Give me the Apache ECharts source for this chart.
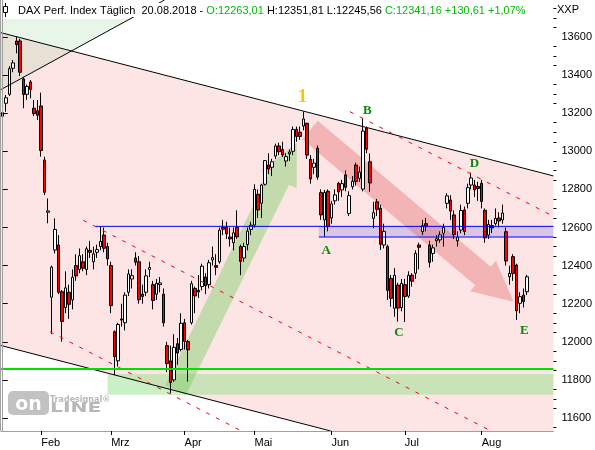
<!DOCTYPE html>
<html><head><meta charset="utf-8">
<script src="https://cdn.jsdelivr.net/npm/echarts@6/dist/echarts.min.js"></script>
<style>html,body{margin:0;padding:0;background:#fff}#c{width:595px;height:450px}</style>
</head><body><div id="c"></div>
<script>
// ---------- DATA ----------
const dates = [
'2018-01-17','2018-01-18','2018-01-19','2018-01-22','2018-01-23','2018-01-24','2018-01-25','2018-01-26','2018-01-29','2018-01-30','2018-01-31',
'2018-02-01','2018-02-02','2018-02-05','2018-02-06','2018-02-07','2018-02-08','2018-02-09','2018-02-12','2018-02-13','2018-02-14','2018-02-15','2018-02-16','2018-02-19','2018-02-20','2018-02-21','2018-02-22','2018-02-23','2018-02-26','2018-02-27','2018-02-28',
'2018-03-01','2018-03-02','2018-03-05','2018-03-06','2018-03-07','2018-03-08','2018-03-09','2018-03-12','2018-03-13','2018-03-14','2018-03-15','2018-03-16','2018-03-19','2018-03-20','2018-03-21','2018-03-22','2018-03-23','2018-03-26','2018-03-27','2018-03-28','2018-03-29',
'2018-04-03','2018-04-04','2018-04-05','2018-04-06','2018-04-09','2018-04-10','2018-04-11','2018-04-12','2018-04-13','2018-04-16','2018-04-17','2018-04-18','2018-04-19','2018-04-20','2018-04-23','2018-04-24','2018-04-25','2018-04-26','2018-04-27','2018-04-30',
'2018-05-02','2018-05-03','2018-05-04','2018-05-07','2018-05-08','2018-05-09','2018-05-10','2018-05-11','2018-05-14','2018-05-15','2018-05-16','2018-05-17','2018-05-18','2018-05-21','2018-05-22','2018-05-23','2018-05-24','2018-05-25','2018-05-28','2018-05-29','2018-05-30','2018-05-31',
'2018-06-01','2018-06-04','2018-06-05','2018-06-06','2018-06-07','2018-06-08','2018-06-11','2018-06-12','2018-06-13','2018-06-14','2018-06-15','2018-06-18','2018-06-19','2018-06-20','2018-06-21','2018-06-22','2018-06-25','2018-06-26','2018-06-27','2018-06-28','2018-06-29',
'2018-07-02','2018-07-03','2018-07-04','2018-07-05','2018-07-06','2018-07-09','2018-07-10','2018-07-11','2018-07-12','2018-07-13','2018-07-16','2018-07-17','2018-07-18','2018-07-19','2018-07-20','2018-07-23','2018-07-24','2018-07-25','2018-07-26','2018-07-27','2018-07-30','2018-07-31',
'2018-08-01','2018-08-02','2018-08-03','2018-08-06','2018-08-07','2018-08-08','2018-08-09','2018-08-10','2018-08-13','2018-08-14','2018-08-15','2018-08-16','2018-08-17','2018-08-20'
];
const opens = [
13203,13252,13299,13436,13579,13579,13380,13299,13364,13226,13213,
13238,12954,12680,12234,12482,12508,12263,12180,12260,12220,12400,12380,12420,12380,12480,12420,12470,12500,12560,12500,
12400,12053,11900,12120,12100,12260,12330,12440,12420,12250,12260,12380,12300,12250,12300,12250,11980,11900,11800,11990,11960,
12100,12001,12100,12280,12270,12290,12340,12300,12430,12400,12420,12600,12600,12550,12520,12600,12500,12440,12510,12590,
12613,12774,12727,12827,12928,12916,12975,13028,13010,12949,12986,13000,13115,13100,13133,13147,12958,12916,13016,12783,12640,12790,
12650,12740,12832,12797,12876,12674,12814,12928,12858,12802,13121,12945,12648,12735,12701,12508,12500,12333,12176,12298,12180,
12300,12240,12350,12360,12508,12578,12620,12508,12464,12530,12535,12570,12727,12744,12666,12530,12587,12692,12727,12823,12823,12815,
12832,12690,12560,12610,12620,12650,12640,12578,12342,12447,12403,12202,12245,12263.01
];
const highs = [
13252,13296,13447,13479,13602,13590,13390,13350,13374,13269,13269,
13308,12972,12753,12400,12648,12560,12272,12370,12300,12380,12460,12490,12460,12500,12530,12500,12510,12606,12600,12520,
12420,12060,12100,12200,12260,12380,12380,12470,12450,12300,12380,12420,12320,12330,12340,12280,12000,11980,12040,12020,12150,
12120,12010,12320,12290,12350,12410,12360,12430,12500,12460,12600,12640,12630,12600,12600,12690,12510,12520,12600,12630,
12827,12800,12830,12954,12990,12960,13040,13045,13050,12990,13010,13130,13130,13130,13208,13150,12980,12960,13030,12800,12797,12800,
12740,12800,12840,12850,12900,12790,12870,12940,12920,13173,13130,12989,12735,12750,12720,12620,12510,12351,12387,12310,12330,
12330,12370,12360,12480,12520,12640,12650,12530,12510,12560,12580,12620,12780,12770,12690,12580,12720,12710,12830,12888,12850,12840,
12850,12700,12640,12640,12700,12680,12720,12600,12400,12460,12410,12260,12280,12351.81
];
const lows = [
13133,13208,13290,13415,13514,13395,13226,13270,13278,13185,13164,
12972,12770,12622,12040,12464,12250,12001,12150,12120,12170,12320,12360,12370,12350,12440,12380,12440,12480,12470,12400,
12150,11826,11870,12080,12060,12240,12280,12400,12200,12200,12240,12340,12170,12220,12260,12080,11840,11730,11790,11880,11950,
11960,11791,12090,12150,12230,12270,12250,12280,12400,12350,12410,12560,12540,12500,12480,12540,12350,12420,12480,12560,
12600,12650,12650,12820,12880,12870,12960,12980,12970,12920,12950,12980,13050,13060,13110,12960,12830,12880,12850,12640,12552,12580,
12620,12720,12740,12760,12790,12660,12800,12820,12840,12790,12990,12788,12596,12660,12482,12490,12220,12184,12132,12106,12160,
12104,12230,12290,12330,12380,12560,12580,12390,12420,12500,12520,12500,12700,12640,12540,12500,12570,12560,12700,12800,12760,12740,
12700,12520,12540,12570,12610,12600,12620,12400,12300,12320,12114,12150,12180,12245.56
];
const closes = [
13184,13281,13434,13464,13560,13415,13298,13340,13325,13198,13189,
13004,12785,12687,12392,12590,12260,12107,12283,12197,12339,12346,12452,12386,12488,12470,12462,12484,12527,12491,12436,
12190,11922,12091,12114,12245,12356,12347,12418,12221,12238,12346,12390,12217,12307,12309,12100,11886,11787,11971,11941,12097,
12002,11958,12305,12241,12262,12397,12294,12415,12442,12391,12586,12591,12567,12540,12572,12551,12422,12500,12581,12612,
12800,12692,12823,12951,12907,12945,13028,12998,12981,12972,12996,13115,13078,13078,13170,12980,12855,12938,12864,12666,12784,12605,
12724,12771,12787,12830,12811,12767,12843,12842,12891,13106,13011,12834,12678,12695,12512,12580,12270,12228,12349,12177,12306,
12238,12349,12318,12464,12496,12610,12609,12417,12493,12541,12561,12600,12766,12686,12562,12549,12689,12579,12809,12860,12798,12805,
12737,12546,12616,12598,12648,12634,12676,12424,12359,12359,12163,12237,12211,12341.16
];
const monthLabels = {'01':'Jan','02':'Feb','03':'Mrz','04':'Apr','05':'Mai','06':'Jun','07':'Jul','08':'Aug'};
const yMajorTicks = [11600,11800,12000,12200,12400,12600,12800,13000,13200,13400,13600];
const yMinorTicks = [11550,11650,11700,11750,11850,11900,11950,12050,12100,12150,12250,12300,12350,12450,12500,12550,12650,12700,12750,12850,12900,12950,13050,13100,13150,13250,13300,13350,13450,13500,13550,13650,13700,13750];
const headerParts = [
  ['DAX Perf. Index Täglich  20.08.2018 - ', 'k'], ['O:12263,01', 'g'], [' H:12351,81 L:12245,56 ', 'k'], ['C:12341,16 +130,61 +1,07%', 'g']
];

// annotations in data coordinates: [slot index, index value]
const upperChannel = [[-5, 13644], [165, 12835]];
const lowerChannel = [[-5, 12002], [165, 11193]];
const risingLine   = [[-5, 13279], [60, 13932]];
const redDashA = [[99.3, 13208], [160, 12635]];
const redDashB = [[23, 12638], [160, 11339]];
const redDashC = [[13.5, 12053], [80, 11421]];
const blueLineTop = [[26.6, 12606], [200, 12606]];
const blueLineBottom = [[90.4, 12550], [200, 12550]];
const greenLine = [[-5, 11857], [200, 11857]];
const supportZone = {from: 30, to: 200, low: 11722, high: 11831};
const resistZone = {from: 90.4, to: 200, low: 12550, high: 12606};
const greenArrow = {tail: [49.4, 11747], tip: [84.1, 13044]};
const redArrow = {tail: [87.9, 13112], tip: [146.1, 12210]};
const letterMarks = [['A', 92.5, 12477], ['B', 104.3, 13213], ['C', 113.3, 12050], ['D', 134.9, 12937], ['E', 149.2, 12058]];
const waveMark = ['1', 85.7, 13287];

// ---------- CHART ----------
const N_SLOTS = 158;
const cats = dates.slice();
while (cats.length < N_SLOTS) cats.push('');
const monthStart = cats.map((d, i) => i > 0 && d && dates[i - 1] && d.slice(5, 7) !== dates[i - 1].slice(5, 7));
const candleData = dates.map((d, i) => [opens[i], closes[i], lows[i], highs[i]]);
const YMIN = 11531.8, YMAX = 13794.2;
const FONT = '"Liberation Sans", Arial, sans-serif';

function rectPoly(cs) { return [[cs.x, cs.y], [cs.x + cs.width, cs.y], [cs.x + cs.width, cs.y + cs.height], [cs.x, cs.y + cs.height]]; }
function clipHalf(poly, p1, p2, keepAbove) {
  const side = p => (p2[0] - p1[0]) * (p[1] - p1[1]) - (p2[1] - p1[1]) * (p[0] - p1[0]);
  const ref = [p1[0], p1[1] - 100000];
  const s0 = side(ref) >= 0 ? 1 : -1;
  const sgn = keepAbove ? s0 : -s0;
  const out = [];
  for (let k = 0; k < poly.length; k++) {
    const a = poly[k], b = poly[(k + 1) % poly.length];
    const sa = side(a) * sgn, sb = side(b) * sgn;
    if (sa >= 0) out.push(a);
    if ((sa >= 0) !== (sb >= 0)) { const t = sa / (sa - sb); out.push([a[0] + t * (b[0] - a[0]), a[1] + t * (b[1] - a[1])]); }
  }
  return out;
}
function clipSeg(p, q, cs) {
  let t0 = 0, t1 = 1; const dx = q[0] - p[0], dy = q[1] - p[1];
  const P = [-dx, dx, -dy, dy], Q = [p[0] - cs.x, cs.x + cs.width - p[0], p[1] - cs.y, cs.y + cs.height - p[1]];
  for (let k = 0; k < 4; k++) {
    if (P[k] === 0) { if (Q[k] < 0) return null; }
    else { const r = Q[k] / P[k]; if (P[k] < 0) { if (r > t1) return null; if (r > t0) t0 = r; } else { if (r < t0) return null; if (r < t1) t1 = r; } }
  }
  return [p[0] + t0 * dx, p[1] + t0 * dy, p[0] + t1 * dx, p[1] + t1 * dy];
}
function poly(points, fill) { return {type: 'polygon', silent: true, shape: {points: points}, style: {fill: fill}}; }
function arrowPoly(T, P, sw, hw, hl) {
  const L = Math.hypot(P[0] - T[0], P[1] - T[1]);
  const u = [(P[0] - T[0]) / L, (P[1] - T[1]) / L], n = [-u[1], u[0]];
  const B = [P[0] - u[0] * hl, P[1] - u[1] * hl];
  const f = (o, s) => [o[0] + n[0] * s, o[1] + n[1] * s];
  return [f(T, sw), f(B, sw), f(B, hw), P, f(B, -hw), f(B, -sw), f(T, -sw)];
}

const chart = echarts.init(document.getElementById('c'), null, {renderer: 'canvas'});
const option = {
  animation: false,
  backgroundColor: '#ffffff',
  grid: {left: 1, right: 40, top: 0, bottom: 19, containLabel: false},
  xAxis: [{
    type: 'category', data: cats, boundaryGap: true, z: 10,
    axisLine: {show: true, lineStyle: {color: '#a0a0a0', width: 1}},
    axisTick: {show: true, alignWithLabel: true, length: 4, interval: (i) => monthStart[i], lineStyle: {color: '#000'}},
    axisLabel: {show: true, interval: (i) => monthStart[i], align: 'left', margin: 6, color: '#000', fontSize: 11, fontFamily: FONT,
      formatter: (v) => monthLabels[v.slice(5, 7)] || ''},
    splitLine: {show: false}
  }, {
    type: 'value', min: -0.5, max: N_SLOTS - 0.5, show: false
  }],
  yAxis: [{
    type: 'value', position: 'right', min: YMIN, max: YMAX, z: 10, scale: true,
    axisLine: {show: true, lineStyle: {color: '#a0a0a0', width: 1}},
    axisTick: {show: true, customValues: yMajorTicks, length: 5, lineStyle: {color: '#000'}},
    axisLabel: {show: true, customValues: yMajorTicks, margin: 8, color: '#000', fontSize: 11, fontFamily: FONT,
      formatter: (v) => String(Math.round(v))},
    splitLine: {show: false}
  }, {
    type: 'value', position: 'right', min: YMIN, max: YMAX, z: 10, scale: true,
    axisLine: {show: false},
    axisTick: {show: true, customValues: yMinorTicks, length: 3, lineStyle: {color: '#000'}},
    axisLabel: {show: false},
    splitLine: {show: false}
  }],
  series: [
    { // background regions
      type: 'custom', xAxisIndex: 1, yAxisIndex: 0, z: 1, silent: true, data: [0],
      renderItem: (params, api) => {
        const cs = params.coordSys; const R = rectPoly(cs); const c = api.coord;
        const u1 = c(upperChannel[0]), u2 = c(upperChannel[1]);
        const l1 = c(lowerChannel[0]), l2 = c(lowerChannel[1]);
        const r1 = c(risingLine[0]), r2 = c(risingLine[1]);
        let channel = clipHalf(clipHalf(R, u1, u2, false), l1, l2, true);
        const pink = clipHalf(channel, r1, r2, false);
        const beige = clipHalf(channel, r1, r2, true);
        const green = clipHalf(clipHalf(R, u1, u2, true), r1, r2, true);
        const zoneRect = (z) => {
          const a = c([z.from, z.high]), b = c([z.to, z.low]);
          const x2 = Math.min(b[0], cs.x + cs.width);
          return [[a[0], a[1]], [x2, a[1]], [x2, b[1]], [a[0], b[1]]];
        };
        return {type: 'group', children: [
          poly(pink, '#fde5e5'), poly(beige, '#e9e0d5'), poly(green, '#e7f6e8'),
          poly(zoneRect(supportZone), 'rgba(140,222,128,0.46)'),
          poly(zoneRect(resistZone), 'rgba(149,140,239,0.36)')
        ]};
      }
    },
    { // arrows
      type: 'custom', xAxisIndex: 1, yAxisIndex: 0, z: 2, silent: true, data: [0],
      renderItem: (params, api) => {
        const c = api.coord;
        const g = arrowPoly(c(greenArrow.tail), c(greenArrow.tip), 11.5, 20, 41);
        const r = arrowPoly(c(redArrow.tail), c(redArrow.tip), 12, 20, 40);
        return {type: 'group', children: [poly(g, 'rgba(125,205,105,0.45)'), poly(r, 'rgba(222,95,95,0.36)')]};
      }
    },
    {
      type: 'candlestick', xAxisIndex: 0, yAxisIndex: 0, z: 3, data: candleData, barWidth: 3,
      itemStyle: {color: '#ffffff', color0: '#ff0000', borderColor: '#000000', borderColor0: '#000000', borderWidth: 1}
    },
    { // lines
      type: 'custom', xAxisIndex: 1, yAxisIndex: 0, z: 4, silent: true, data: [0],
      renderItem: (params, api) => {
        const cs = params.coordSys; const c = api.coord;
        const mk = (seg, stroke, w, dash) => {
          const s = clipSeg(c(seg[0]), c(seg[1]), cs);
          if (!s) return null;
          return {type: 'line', silent: true, shape: {x1: s[0], y1: s[1], x2: s[2], y2: s[3]},
            style: {stroke: stroke, lineWidth: w, lineDash: dash || null}};
        };
        const items = [
          mk(upperChannel, '#000', 1), mk(lowerChannel, '#000', 1), mk(risingLine, '#000', 1),
          mk(redDashA, '#ff0000', 1, [4, 7]), mk(redDashB, '#ff0000', 1, [4, 7]), mk(redDashC, '#ff0000', 1, [4, 7]),
          mk(blueLineTop, '#0000ff', 1), mk(blueLineBottom, '#0000ff', 1), mk(greenLine, '#00e000', 2)
        ].filter(Boolean);
        return {type: 'group', children: items};
      }
    },
    { // labels
      type: 'custom', xAxisIndex: 1, yAxisIndex: 0, z: 5, silent: true, data: [0],
      renderItem: (params, api) => {
        const c = api.coord;
        const kids = letterMarks.map(m => {
          const p = c([m[1], m[2]]);
          return {type: 'text', silent: true, x: p[0], y: p[1], style: {text: m[0], fill: '#0a8a0a', font: 'bold 13px "Liberation Serif", serif',
            align: 'center', verticalAlign: 'middle', textShadowColor: '#e8c400', textShadowOffsetX: 1, textShadowOffsetY: 1, textShadowBlur: 0}};
        });
        const w = c([waveMark[1], waveMark[2]]);
        kids.push({type: 'text', silent: true, x: w[0], y: w[1], style: {text: waveMark[0], fill: '#f5c800', font: 'bold 19px "Liberation Serif", serif', align: 'center', verticalAlign: 'middle'}});
        return {type: 'group', children: kids};
      }
    }
  ],
  graphic: [
    {type: 'rect', z: 2.5, silent: true, shape: {x: 0, y: 0, width: 555, height: 19}, style: {fill: '#ffffff'}},
    {type: 'line', z: 11, silent: true, shape: {x1: 0.5, y1: 0, x2: 0.5, y2: 431}, style: {stroke: '#a0a0a0', lineWidth: 1}},
    // header icon
    {type: 'line', z: 12, silent: true, shape: {x1: 5.5, y1: 3, x2: 5.5, y2: 17}, style: {stroke: '#000', lineWidth: 1}},
    {type: 'rect', z: 12, silent: true, shape: {x: 3.5, y: 6.5, width: 4, height: 6}, style: {fill: '#fff', stroke: '#000', lineWidth: 1}},
    {type: 'text', z: 12, silent: true, x: 17, y: 10, style: {
      text: headerParts.map(p => '{' + p[1] + '|' + p[0] + '}').join(''),
      font: '11px ' + FONT, verticalAlign: 'middle', backgroundColor: '#fff', padding: [2, 1, 1, 1],
      rich: {k: {fill: '#000', font: '11px ' + FONT}, g: {fill: '#00bb00', font: '11px ' + FONT}}}},
    {type: 'text', z: 12, silent: true, x: 557, y: 10, style: {text: 'XXP', font: '11px "Liberation Sans Narrow", ' + FONT, fill: '#000', verticalAlign: 'middle'}},
    // watermark logo
    {type: 'rect', z: 6, silent: true, shape: {x: 8, y: 391, width: 41, height: 24, r: 5}, style: {fill: '#c2c2c2'}},
    {type: 'text', z: 6, silent: true, x: 28.5, y: 415, style: {text: 'on', font: 'bold 19px "DejaVu Sans", sans-serif', fill: '#ffffff', stroke: '#b0b0b0', lineWidth: 0.5, align: 'center', verticalAlign: 'bottom'}},
    {type: 'text', z: 6, silent: true, x: 50, y: 415, scaleX: 1.45, style: {text: 'LINE', font: 'bold 14px "DejaVu Sans", sans-serif', fill: '#b8b8b8', verticalAlign: 'bottom'}},
    {type: 'text', z: 6, silent: true, x: 50, y: 399.5, style: {text: 'Tradesignal®', font: 'bold 8px "DejaVu Sans", sans-serif', fill: '#b8b8b8', verticalAlign: 'middle'}}
  ]
};
chart.setOption(option);
</script>
</body></html>
